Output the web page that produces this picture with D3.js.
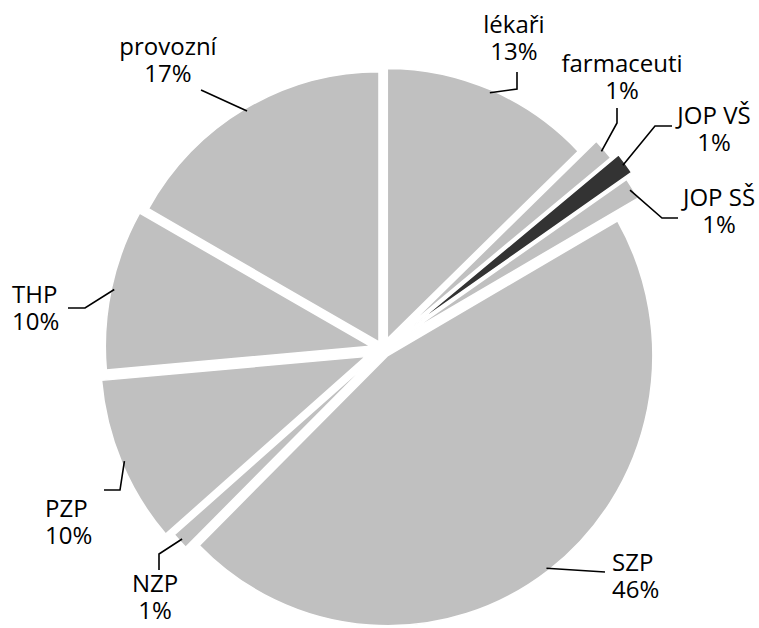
<!DOCTYPE html>
<html>
<head>
<meta charset="utf-8">
<script src="https://cdn.jsdelivr.net/npm/d3@7"></script>
<style>
  body { margin: 0; background: #fff; }
  text { font-family: "Open Sans", sans-serif; font-size: 24px; fill: #000; }
</style>
</head>
<body>
<div id="chart"></div>
<script>
// staff groups and their share of the headcount (%)
var categories = ["lékaři", "farmaceuti", "JOP VŠ", "JOP SŠ", "SZP", "NZP", "PZP", "THP", "provozní"];
var shares = [12.8, 1.3, 1.3, 1.3, 45.9, 1.0, 10.0, 9.6, 16.8];

// how far each slice is pulled out of the pie (px)
var explode = [11, 30, 38, 30, 8, 12, 19, 13, 8];
var fills = ["#c0c0c0", "#c0c0c0", "#333333", "#c0c0c0", "#c0c0c0", "#c0c0c0", "#c0c0c0", "#c0c0c0", "#c0c0c0"];

// label placement: first baseline, anchor, leader elbow points
var labelPos = [
  { x: 514, y: 33, anchor: "middle", leader: [[517, 89], [517, 72]] },
  { x: 622, y: 72, anchor: "middle", leader: [[617, 123], [617, 108]] },
  { x: 714, y: 124, anchor: "middle", leader: [[655, 126], [672, 126]] },
  { x: 719, y: 206, anchor: "middle", leader: [[662, 218], [678, 218]] },
  { x: 612, y: 571, anchor: "start", leader: [[605, 572]] },
  { x: 155, y: 592, anchor: "middle", leader: [[159, 554], [159, 570]] },
  { x: 45, y: 517, anchor: "start", leader: [[120, 490], [104, 490]] },
  { x: 12, y: 303, anchor: "start", leader: [[85, 308], [68, 308]] },
  { x: 168, y: 55, anchor: "middle", leader: [[201, 90]] }
];

var svgWidth = 759;
var svgHeight = 628;
var cx = 383, cy = 349;
var radius = 265;
var sy = 1.02; // the original is a touch taller than wide

var svg = d3.select("#chart")
  .append("svg")
  .attr("width", svgWidth)
  .attr("height", svgHeight);

var data = categories.map(function (c, i) {
  return { name: c, value: shares[i], off: explode[i], fill: fills[i], pos: labelPos[i] };
});

var pie = d3.pie().sort(null).value(function (d) { return d.value; });
var arcs = pie(data);

var arc = d3.arc().innerRadius(0).outerRadius(radius);

var pieGroup = svg.append("g")
  .attr("transform", "translate(" + cx + "," + cy + ") scale(1," + sy + ")");

pieGroup.selectAll("path")
  .data(arcs)
  .join("path")
    .attr("d", arc)
    .attr("fill", function (d) { return d.data.fill; })
    .attr("stroke", "#fff")
    .attr("stroke-width", 1.5)
    .attr("vector-effect", "non-scaling-stroke")
    .attr("transform", function (d) {
      var mid = (d.startAngle + d.endAngle) / 2;
      return "translate(" + (d.data.off * Math.sin(mid)) + "," + (-d.data.off * Math.cos(mid)) + ")";
    });

// leader lines start on the slice rim at its middle angle
var line = d3.line();
svg.append("g")
  .selectAll("path")
  .data(arcs)
  .join("path")
    .attr("fill", "none")
    .attr("stroke", "#000")
    .attr("stroke-width", 1.6)
    .attr("d", function (d) {
      var mid = (d.startAngle + d.endAngle) / 2;
      var r = radius + d.data.off - 3;
      var start = [cx + r * Math.sin(mid), cy - sy * r * Math.cos(mid)];
      return line([start].concat(d.data.pos.leader));
    });

var labels = svg.append("g")
  .selectAll("text")
  .data(arcs)
  .join("text")
    .attr("x", function (d) { return d.data.pos.x; })
    .attr("y", function (d) { return d.data.pos.y; })
    .attr("text-anchor", function (d) { return d.data.pos.anchor; });

labels.append("tspan")
  .attr("x", function (d) { return d.data.pos.x; })
  .text(function (d) { return d.data.name; });

labels.append("tspan")
  .attr("x", function (d) { return d.data.pos.x; })
  .attr("dy", 27)
  .text(function (d) { return Math.round(d.data.value) + "%"; });
</script>
</body>
</html>
